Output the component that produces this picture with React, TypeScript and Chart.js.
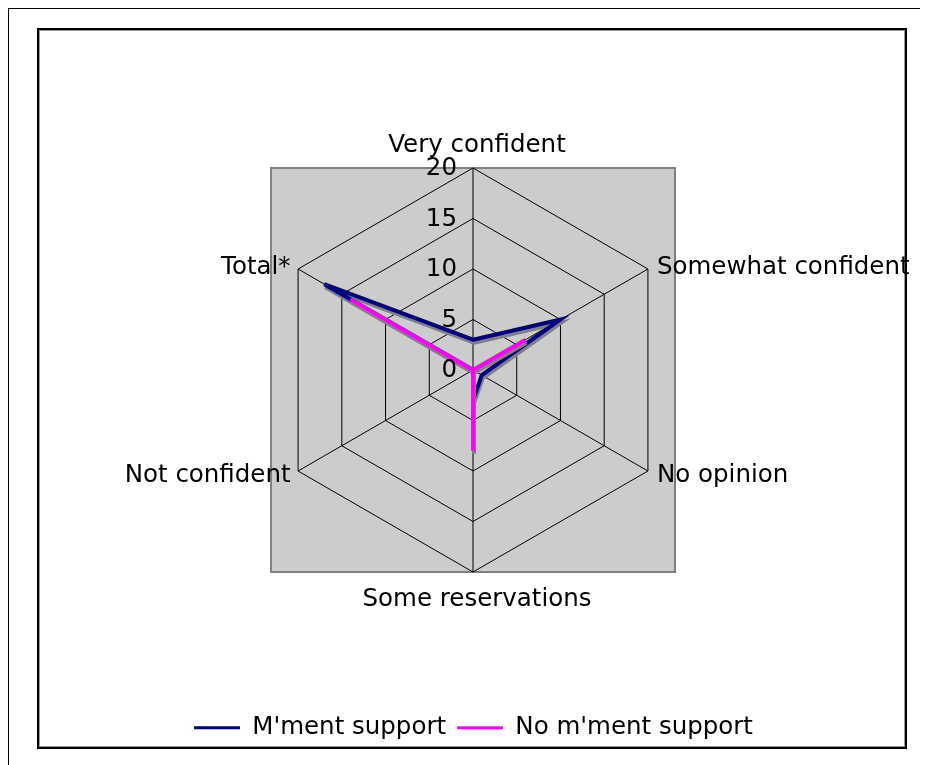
import React, { useEffect, useRef } from 'react';
import { Chart, registerables } from 'chart.js';

Chart.register(...registerables);

// ---- data ----
const categories = [
  'Very confident',
  'Somewhat confident',
  'No opinion',
  'Some reservations',
  'Not confident',
  'Total*',
];
const seriesNames = ["M'ment support", "No m'ment support"];
const mmentSupport = [3, 10, 1, 3, 0, 17];
const noMmentSupport = [0, 6, 0, 8, 0, 14];
const scaleMin = 0;
const scaleMax = 20;
const scaleStep = 5;

// ---- styles ----
const FONT = '"DejaVu Sans", Verdana, sans-serif';
const FONT_SIZE = 24.5;
const NAVY = '#000080';
const MAGENTA = '#ff00ff';

const plotAreaPlugin = {
  id: 'plotArea',
  beforeDraw(chart: any) {
    const s = chart.scales.r;
    const ctx = chart.ctx;
    const r = s.drawingArea;
    ctx.save();
    ctx.fillStyle = '#cccccc';
    ctx.fillRect(s.xCenter - r, s.yCenter - r, 2 * r, 2 * r);
    ctx.strokeStyle = '#808080';
    ctx.lineWidth = 2;
    ctx.strokeRect(s.xCenter - r, s.yCenter - r, 2 * r, 2 * r);
    ctx.restore();
  },
};

const shadowPlugin = {
  id: 'lineShadow',
  beforeDatasetDraw(chart: any) {
    const ctx = chart.ctx;
    ctx.save();
    ctx.shadowColor = '#808080';
    ctx.shadowOffsetX = 1;
    ctx.shadowOffsetY = 3;
    ctx.shadowBlur = 0;
  },
  afterDatasetDraw(chart: any) {
    chart.ctx.restore();
  },
};

const textPlugin = {
  id: 'radarText',
  afterDatasetsDraw(chart: any) {
    const s = chart.scales.r;
    const ctx = chart.ctx;
    ctx.save();
    ctx.fillStyle = '#000';
    ctx.font = `${FONT_SIZE}px ${FONT}`;
    // tick labels, right aligned beside the vertical axis
    ctx.textAlign = 'right';
    ctx.textBaseline = 'middle';
    s.ticks.forEach((t: any) => {
      const d = s.getDistanceFromCenterForValue(t.value);
      ctx.fillText(String(t.label), s.xCenter - 16, s.yCenter - d + 1);
    });
    // category labels
    ctx.textBaseline = 'alphabetic';
    const R = s.drawingArea;
    (chart.data.labels as string[]).forEach((lab, i) => {
      const p = s.getPointPosition(i, R);
      const dx = p.x - s.xCenter;
      const dy = p.y - s.yCenter;
      let x: number;
      let y: number;
      let align: CanvasTextAlign;
      if (Math.abs(dx) < 1) {
        align = 'center';
        x = p.x + 4;
        y = dy < 0 ? p.y - 16.3 : p.y + 33.7;
      } else if (dx > 0) {
        align = 'left';
        x = p.x + 9;
        y = p.y + (dy < 0 ? 5.3 : 10.7);
      } else {
        align = 'right';
        x = p.x - 7.5;
        y = p.y + (dy < 0 ? 5.3 : 10.7);
      }
      ctx.textAlign = align;
      ctx.fillText(lab, x, y);
    });
    ctx.restore();
  },
};

export default function App() {
  const ref = useRef<HTMLCanvasElement>(null);

  useEffect(() => {
    const canvas = ref.current;
    if (!canvas) return;
    const chart = new Chart(canvas, {
      type: 'radar',
      data: {
        labels: categories,
        datasets: [
          {
            label: seriesNames[0],
            data: mmentSupport,
            borderColor: NAVY,
            backgroundColor: NAVY,
            borderWidth: 4,
            pointRadius: 0,
            pointHoverRadius: 0,
            fill: false,
            tension: 0,
            order: 1,
          },
          {
            label: seriesNames[1],
            data: noMmentSupport,
            borderColor: MAGENTA,
            backgroundColor: MAGENTA,
            borderWidth: 4,
            pointRadius: 0,
            pointHoverRadius: 0,
            fill: false,
            tension: 0,
            order: 0,
          },
        ],
      },
      options: {
        responsive: false,
        animation: false,
        events: [],
        color: '#000',
        layout: { padding: { left: 100, right: 90, top: 159, bottom: 15.05 } },
        scales: {
          r: {
            min: scaleMin,
            max: scaleMax,
            ticks: { stepSize: scaleStep, display: false },
            pointLabels: { display: false },
            grid: { color: '#000', lineWidth: 1, circular: false },
            angleLines: { color: '#000', lineWidth: 1 },
          },
        },
        plugins: {
          tooltip: { enabled: false },
          legend: {
            position: 'bottom',
            labels: {
              font: { family: FONT, size: FONT_SIZE },
              color: '#000',
              boxWidth: 46,
              boxHeight: 3,
              padding: 11,
              generateLabels: (c: any) =>
                c.data.datasets.map((ds: any, i: number) => ({
                  text: ds.label,
                  fillStyle: ds.borderColor,
                  strokeStyle: ds.borderColor,
                  fontColor: '#000',
                  lineWidth: 0,
                  hidden: false,
                  datasetIndex: i,
                })),
            },
            title: {
              display: true,
              text: '',
              font: { size: 10 },
              padding: { top: 120.3, bottom: 0 },
            },
          },
        },
      } as any,
      plugins: [plotAreaPlugin, shadowPlugin, textPlugin],
    });
    return () => chart.destroy();
  }, []);

  return (
    <div
      style={{
        position: 'relative',
        width: 921,
        height: 758,
        margin: '-1px 0 0 -1px',
        borderTop: '2px solid #000',
        borderLeft: '2px solid #000',
        boxSizing: 'border-box',
      }}
    >
      <div
        style={{
          position: 'absolute',
          left: 28,
          top: 19,
          width: 870,
          height: 721,
          border: '2px solid #000',
          boxSizing: 'border-box',
          boxShadow: 'inset 0 0 0 1px #999',
        }}
      />
      <canvas
        ref={ref}
        width={919}
        height={756}
        style={{ position: 'absolute', left: 0, top: 0, width: 919, height: 756 }}
      />
    </div>
  );
}
